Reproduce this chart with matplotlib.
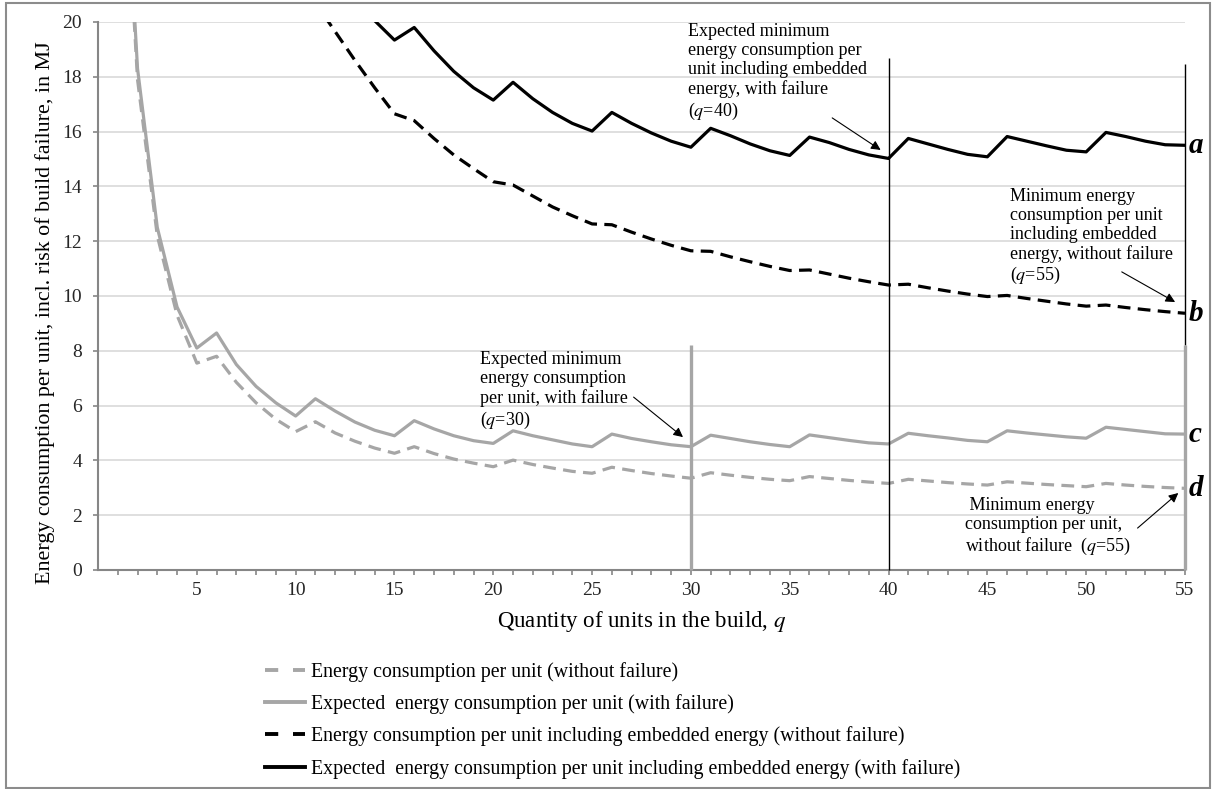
import numpy as np
import matplotlib
matplotlib.use("Agg")
import matplotlib.pyplot as plt
from matplotlib.lines import Line2D
from matplotlib.patches import Rectangle

plt.rcParams["font.family"] = ["Liberation Serif", "DejaVu Serif"]
plt.rcParams["mathtext.fontset"] = "stix"

nan = np.nan

# quantity of units in the build
q = list(range(1, 56))

# energy consumption per unit (without failure)  -> d
energy_no_fail = [30.5, 17.9, 12.2, 9.3, 7.55, 7.8, 6.85, 6.1, 5.5, 5.05,
                  5.41, 5.0, 4.7, 4.45, 4.26, 4.5, 4.25, 4.05, 3.9, 3.77,
                  4.01, 3.85, 3.72, 3.6, 3.53, 3.75, 3.63, 3.52, 3.43, 3.35,
                  3.55, 3.46, 3.38, 3.31, 3.26, 3.41, 3.34, 3.27, 3.21, 3.16,
                  3.31, 3.25, 3.19, 3.14, 3.1, 3.22, 3.17, 3.12, 3.08, 3.04,
                  3.16, 3.1, 3.05, 3.01, 2.98]

# expected energy consumption per unit (with failure)  -> c
energy_fail = [31.0, 18.3, 12.5, 9.6, 8.1, 8.65, 7.5, 6.7, 6.1, 5.62,
               6.25, 5.8, 5.4, 5.1, 4.9, 5.45, 5.15, 4.9, 4.72, 4.62,
               5.08, 4.9, 4.75, 4.6, 4.5, 4.96, 4.8, 4.68, 4.57, 4.5,
               4.92, 4.8, 4.68, 4.58, 4.5, 4.93, 4.83, 4.73, 4.64, 4.6,
               4.99, 4.9, 4.82, 4.73, 4.68, 5.08, 5.0, 4.93, 4.86, 4.81,
               5.21, 5.13, 5.05, 4.97, 4.96]

# incl. embedded energy (without failure)  -> b
embedded_no_fail = [nan, nan, nan, nan, nan, nan, nan, nan, nan, 21.8,
                    20.7, 19.65, 18.6, 17.6, 16.65, 16.4, 15.75, 15.15, 14.65, 14.17,
                    14.05, 13.65, 13.25, 12.93, 12.63, 12.6, 12.33, 12.08, 11.85, 11.65,
                    11.63, 11.43, 11.25, 11.08, 10.93, 10.95, 10.8, 10.65, 10.52, 10.4,
                    10.43, 10.3, 10.18, 10.07, 9.98, 10.02, 9.91, 9.81, 9.71, 9.63,
                    9.67, 9.58, 9.5, 9.43, 9.37]

# expected, incl. embedded energy (with failure)  -> a
embedded_fail = [nan, nan, nan, nan, nan, nan, nan, nan, nan, nan,
                 22.5, 21.6, 20.8, 20.05, 19.34, 19.8, 18.95, 18.2, 17.6, 17.15,
                 17.8, 17.2, 16.7, 16.3, 16.02, 16.7, 16.3, 15.95, 15.65, 15.43,
                 16.12, 15.85, 15.55, 15.3, 15.13, 15.8, 15.6, 15.35, 15.15, 15.02,
                 15.75, 15.55, 15.35, 15.17, 15.08, 15.82, 15.65, 15.48, 15.32, 15.26,
                 15.97, 15.82, 15.65, 15.52, 15.5]

# vertical marker lines at the minima
marker_q = [30, 40, 55, 55]
marker_lo = [0, 0, 8.2, 0]
marker_hi = [8.2, 18.7, 18.45, 8.2]

GRAY = "#a6a6a6"
AXC = "#868686"
DASH = (0, (4.0, 2.3))

fig = plt.figure(figsize=(12.14, 7.89), dpi=100)
fig.patches.append(Rectangle((6 / 1214, 1 / 789), 1204 / 1214, 785 / 789,
                             transform=fig.transFigure, fill=False,
                             edgecolor="#8c8c8c", lw=1.5))

ax = fig.add_axes([98 / 1214, 1 - 570 / 789, 1087 / 1214, 548 / 789])

ax.plot(q, energy_no_fail, color=GRAY, lw=2.3, ls=DASH)
ax.plot(q, energy_fail, color=GRAY, lw=2.3)
ax.plot(q, embedded_no_fail, color="black", lw=2.3, ls=DASH)
ax.plot(q, embedded_fail, color="black", lw=2.3)

styles = [(GRAY, 2.4), ("black", 1.0), ("black", 1.0), (GRAY, 2.4)]
for x, lo, hi, (c, w) in zip(marker_q, marker_lo, marker_hi, styles):
    ax.vlines(x, lo, hi, color=c, lw=w, zorder=3, clip_on=False)

ax.set_xlim(0, 55)
ax.set_ylim(0, 20)
ax.set_xticks(q)
ax.set_xticklabels([str(v) if v % 5 == 0 else "" for v in q])
ax.set_yticks(range(0, 21, 2))
ax.tick_params(axis="both", direction="out", length=3.6, width=1.2,
               color=AXC, labelsize=14, labelcolor="#262626")
ax.tick_params(axis="x", pad=5)
ax.tick_params(axis="y", pad=8)
for s in ["top", "right"]:
    ax.spines[s].set_visible(False)
for s in ["left", "bottom"]:
    ax.spines[s].set_color(AXC)
    ax.spines[s].set_linewidth(1.5)
ax.grid(axis="y", color="#d9d9d9", lw=1.2)
ax.set_axisbelow(True)

ax.set_xlabel("Quantity of units in the build, $q$", fontsize=16.5, labelpad=7)
ax.set_ylabel("Energy consumption per unit, incl. risk of build failure, in MJ",
              fontsize=15.8)
ax.yaxis.set_label_coords(-0.04, 0.47)

# curve labels at the right edge
for series, lab in [(embedded_fail, "a"), (embedded_no_fail, "b"),
                    (energy_fail, "c"), (energy_no_fail, "d")]:
    ax.text(55.2, series[-1], lab, fontsize=21, fontweight="bold",
            fontstyle="italic", ha="left", va="center", clip_on=False)

arrow = dict(arrowstyle="-|>", color="black", lw=0.8, mutation_scale=14,
             shrinkA=0, shrinkB=0)
ax.annotate("Expected minimum\nenergy consumption per\nunit including embedded\n"
            "energy, with failure\n($q$=40)",
            xy=(29.86, 19.95), fontsize=13, va="top", ha="left", linespacing=1.15)
ax.annotate("", xy=(39.6, 15.33), xytext=(37.15, 16.5), arrowprops=arrow)

ax.annotate("Minimum energy\nconsumption per unit\nincluding embedded\n"
            "energy, without failure\n($q$=55)",
            xy=(46.15, 13.95), fontsize=13, va="top", ha="left", linespacing=1.15)
ax.annotate("", xy=(54.5, 9.78), xytext=(51.8, 10.88), arrowprops=arrow)

ax.annotate("Expected minimum\nenergy consumption\nper unit, with failure\n($q$=30)",
            xy=(19.33, 7.98), fontsize=13, va="top", ha="left", linespacing=1.15)
ax.annotate("", xy=(29.6, 4.85), xytext=(27.1, 6.31), arrowprops=arrow)

ax.annotate(" Minimum energy\nconsumption per unit,\nwithout failure  ($q$=55)",
            xy=(43.88, 2.65), fontsize=13, va="top", ha="left", linespacing=1.15)
ax.annotate("", xy=(54.66, 2.81), xytext=(52.6, 1.53), arrowprops=arrow)

handles = [Line2D([], [], color=GRAY, lw=2.8, ls=(0, (3.4, 3.8))),
           Line2D([], [], color=GRAY, lw=2.8),
           Line2D([], [], color="black", lw=2.8, ls=(0, (3.4, 3.8))),
           Line2D([], [], color="black", lw=2.8)]
labels = ["Energy consumption per unit (without failure)",
          "Expected  energy consumption per unit (with failure)",
          "Energy consumption per unit including embedded energy (without failure)",
          "Expected  energy consumption per unit including embedded energy (with failure)"]
fig.legend(handles, labels, loc="upper left", bbox_to_anchor=(265 / 1214, 1 - 662 / 789),
           frameon=False, fontsize=14.3, handlelength=2.0, handletextpad=0.3,
           labelspacing=0.62, borderpad=0, borderaxespad=0)

fig.savefig("out.png", dpi=100)
